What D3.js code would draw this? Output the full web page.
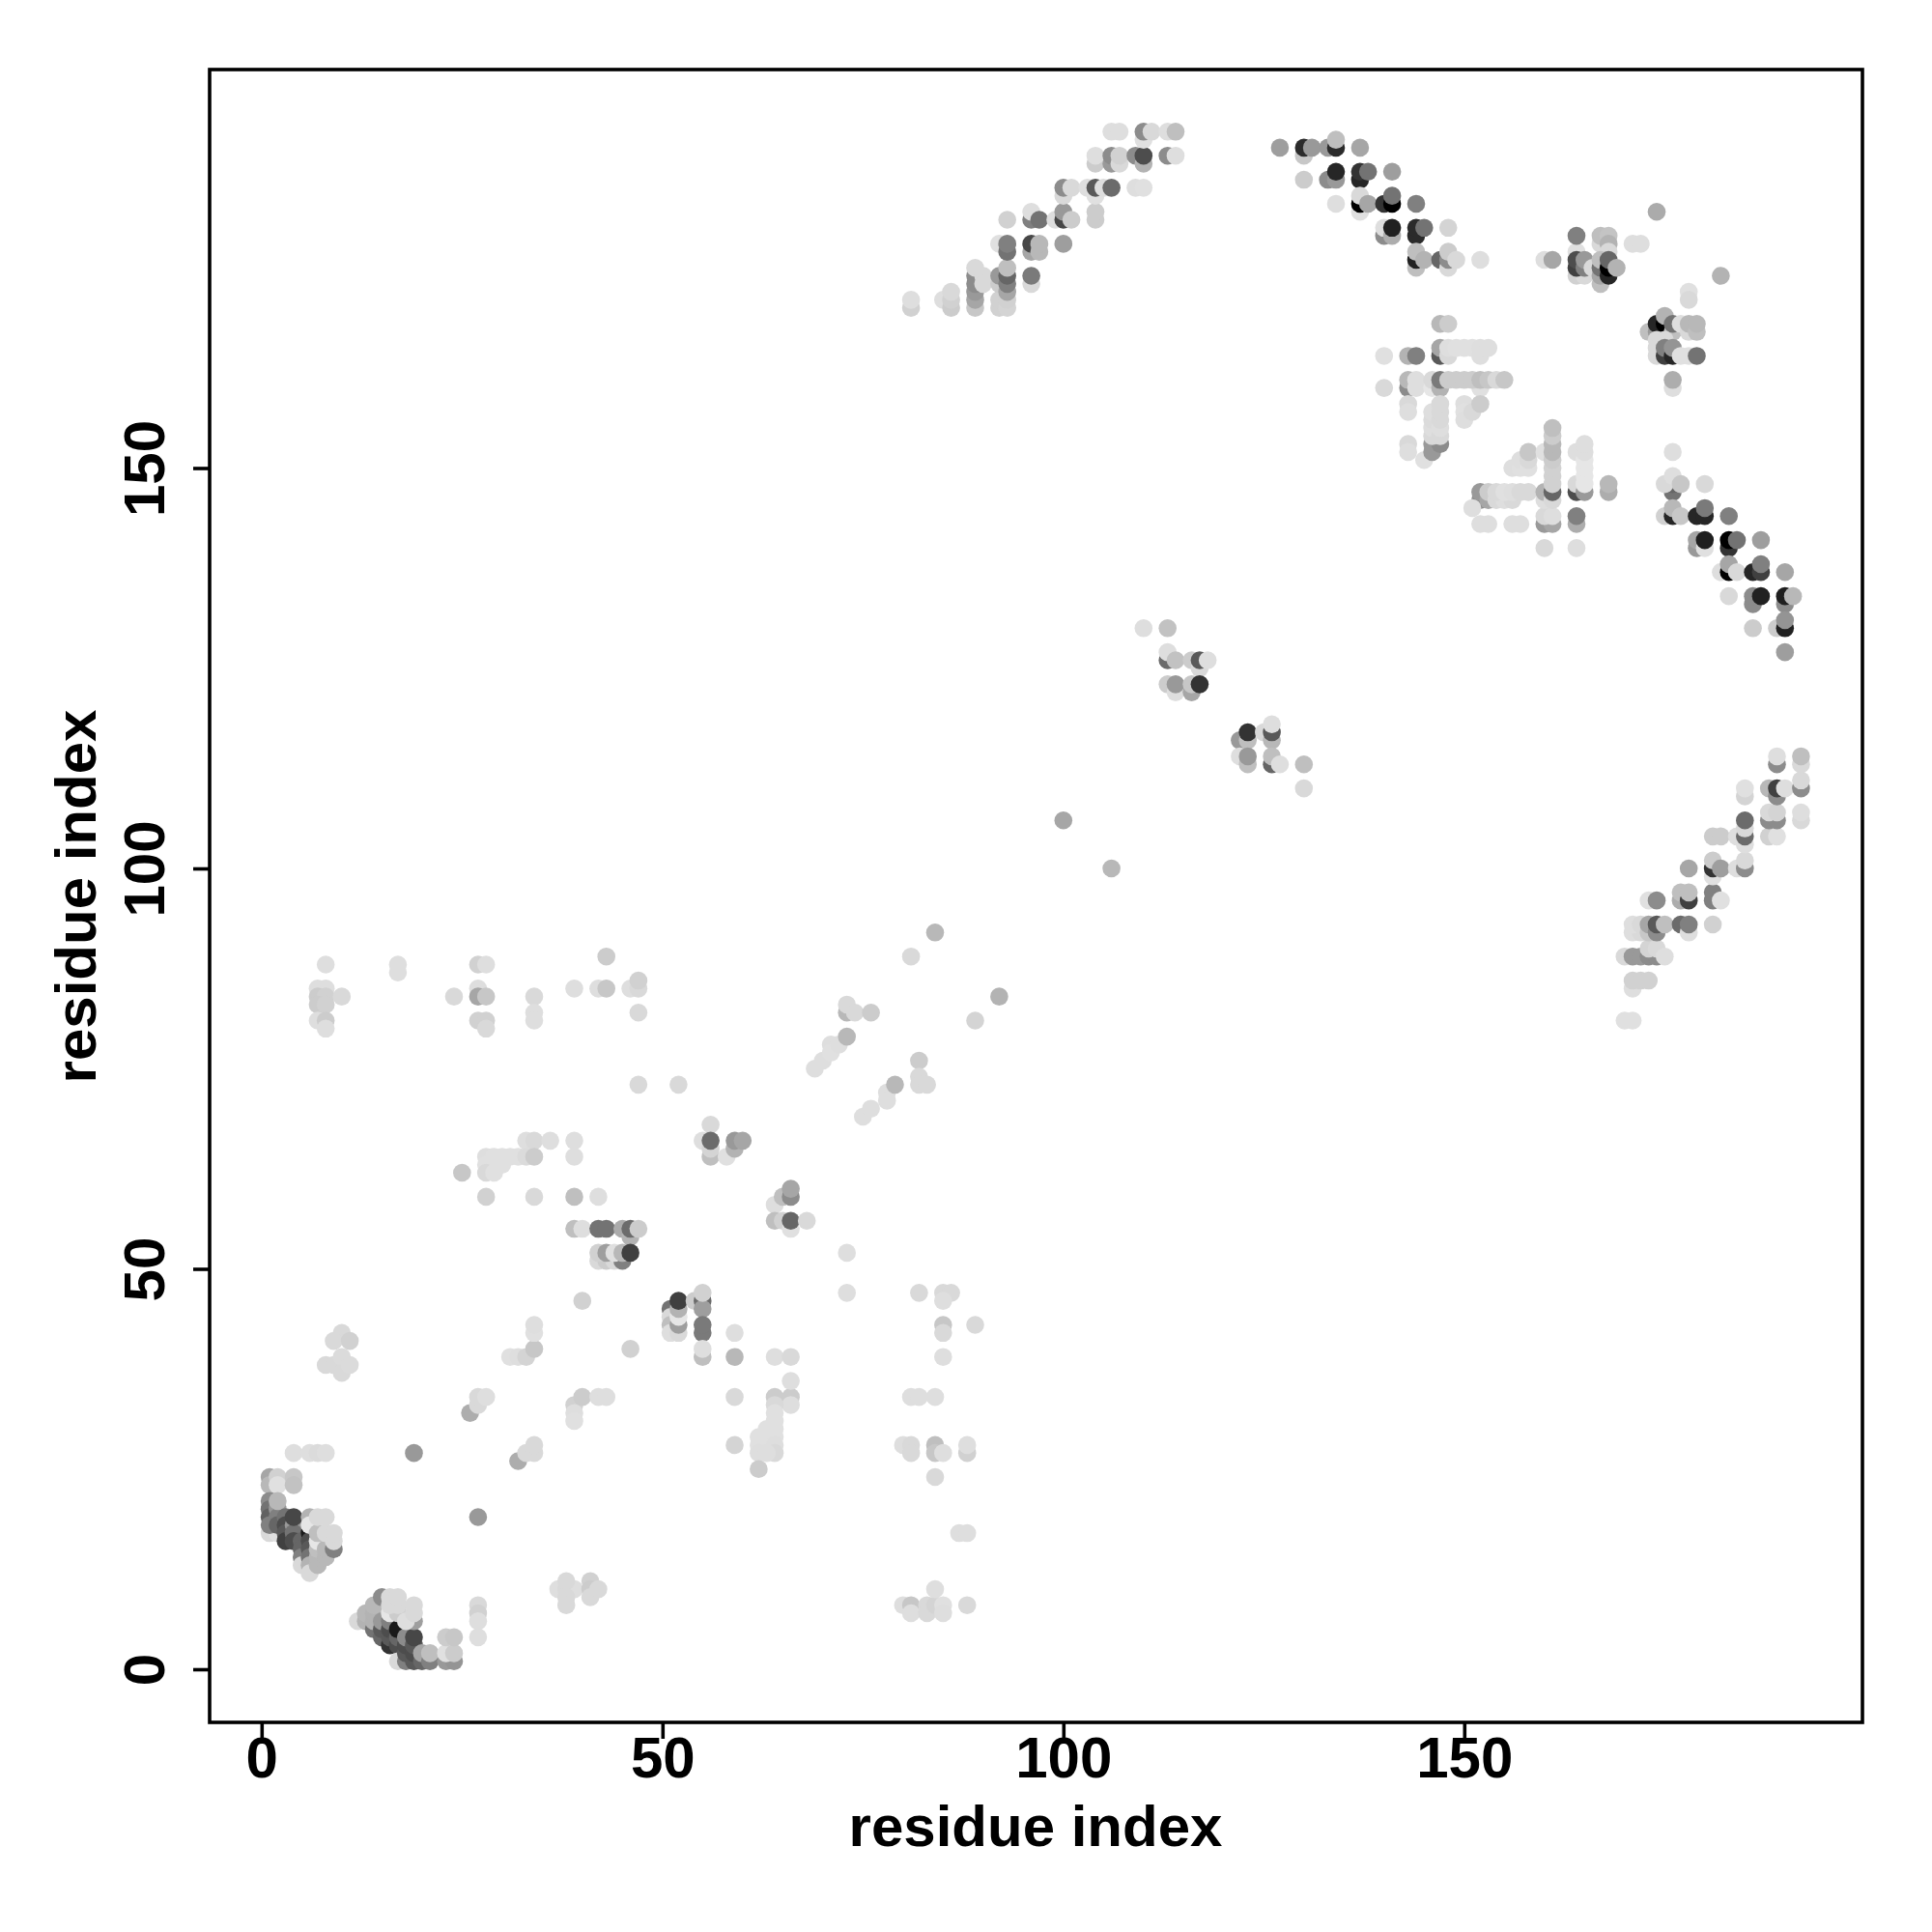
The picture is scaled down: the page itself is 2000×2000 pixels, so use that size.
<!DOCTYPE html>
<html><head><meta charset="utf-8"><style>html,body{margin:0;background:#fff}text{font-family:"Liberation Sans",Arial,sans-serif;font-weight:bold;fill:#000}</style>
<script src="https://cdn.jsdelivr.net/npm/d3@7"></script></head><body><svg id="c" width="2000" height="2000"></svg>
<script>
const xTicks=[0,50,100,150], yTicks=[0,50,100,150];
const xTitle="residue index", yTitle="residue index";
// each contact: [residue x, residue y, grey level 0 (black) - 1 (white)]
const startA=[[1,24,.65],[1,23,.72],[2,24,.82],[2,23,.88],[4,24,.78],[4,23,.76],[4,27,.87],[6,27,.87],[7,27,.86],[8,27,.87],[19,27,.6],[27,19,.6],
[1,17,.85],[2,17,.88],[1,21,.55],[1,20,.45],[1,19,.38],[1,18,.5],[2,20,.6],[2,19,.5],[2,18,.4],[2,21,.72],[3,19,.45],[3,18,.3],[3,17,.35],[3,16,.25],[4,18,.6],[4,17,.45],[4,16,.3],[4,19,.28],
[5,16,.4],[5,15,.4],[5,14,.5],[5,13,.85],[6,17,.1],[6,16,.3],[6,15,.35],[6,14,.45],[6,13,.7],[6,12,.85],[6,19,.7],[6,18,.9],[7,13,.72],[7,14,.72],[7,15,.75],[7,16,.9],[7,17,.75],[8,14,.72],[8,15,.72],[8,17,.85],[9,15,.5],[9,16,.85],[9,17,.85],[7,19,.85],[8,19,.85]];
const startB=[[12,6,.85],[13,6,.7],[13,7,.72],[14,5,.45],[14,6,.7],[14,7,.7],[14,8,.72],[15,4,.4],[15,5,.35],[15,6,.6],[15,9,.55],[16,3,.2],[16,4,.35],[16,5,.3],[16,6,.5],[17,3,.3],[17,4,.4],[17,5,.1],[17,1,.85],[18,1,.5],[18,2,.35],[18,3,.3],[18,4,.55],[19,1,.35],[19,2,.3],[19,3,.35],[19,4,.28],[19,6,.62],[20,1,.4],[20,2,.65],[21,1,.5],[21,2,.75],[23,1,.6],[24,1,.58],[23,2,.88],[24,2,.8],[23,4,.8],[24,4,.78],
[16,7,.9],[17,7,.8],[16,8,.85],[17,8,.85],[16,9,.85],[17,9,.85],[18,6,.87],[19,7,.85],[19,8,.85],[27,8,.85],[27,7,.82],[27,6,.87],[27,4,.87]];
const lowerBlock=[[10,42,.85],[9,41,.85],[11,41,.82],[8,38,.85],[9,38,.85],[10,39,.86],[10,37,.85],[11,38,.86],
[26,32,.68],[27,33,.85],[27,34,.85],[28,34,.87],[39,33,.82],[39,32,.87],[39,31,.88],[40,34,.8],[42,34,.87],[43,34,.87],[59,34,.85],[66,34,.8],[66,33,.87],[64,34,.8],[64,33,.85],[64,32,.88],[64,31,.88],[64,30,.88],[63,30,.88],[63,29,.88],[62,29,.88],[62,28,.88],[64,29,.88],[64,28,.87],[62,27,.87],[64,27,.85],[63,27,.87],[59,28,.83],[62,25,.8],
[32,26,.68],[33,27,.85],[34,27,.85],[34,28,.85],[37,10,.87],[38,10,.85],[39,10,.87],[38,11,.85],[38,9,.85],[38,8,.85],[41,11,.82],[41,10,.8],[41,9,.85],[42,10,.85],
[80,28,.87],[81,28,.85],[81,27,.85],[84,28,.75],[84,27,.78],[85,27,.87],[88,27,.82],[88,28,.87],[84,24,.85],[81,34,.87],[82,34,.87],[84,34,.87],[87,17,.87],[88,17,.87],
[80,8,.87],[81,8,.78],[81,7,.87],[83,8,.85],[83,7,.85],[84,8,.83],[84,10,.87],[85,8,.88],[85,7,.87],[88,8,.85],
[73,47,.87],[73,52,.87],[82,47,.85],[85,47,.85],[86,47,.85],[85,46,.87],[85,43,.78],[85,42,.85],[89,43,.85],[85,39,.87]];
const lowerMid=[[31,39,.88],[32,39,.87],[33,39,.83],[34,40,.78],[34,42,.88],[34,43,.87],[46,40,.82],[40,46,.82],
[51,45,.45],[51,44,.85],[51,43,.75],[51,42,.87],[52,42,.85],[52,43,.62],[52,44,.9],[52,45,.7],[52,46,.25],
[54,46,.8],[55,46,.42],[55,45,.62],[55,47,.82],[55,42,.48],[55,43,.48],[55,39,.75],[55,40,.87],[59,42,.87],[59,39,.72],[64,39,.87],[66,39,.85],[66,36,.87],
[33,66,.87],[34,66,.85],[36,66,.87],[39,66,.87],[39,64,.87],[28,64,.87],[29,64,.88],[30,64,.88],[31,64,.88],[32,64,.88],[33,64,.86],[34,64,.8],[28,63,.88],[29,63,.88],[30,63,.88],[28,62,.85],[29,62,.88],[25,62,.78],[28,59,.82],[34,59,.85],[39,59,.75],[42,59,.87],
[39,55,.75],[40,55,.87],[42,55,.45],[43,55,.45],[45,55,.67],[46,54,.7],[46,55,.42],[47,55,.8],[42,51,.85],[43,51,.8],[44,51,.85],[45,51,.5],[42,52,.82],[43,52,.62],[44,52,.88],[45,52,.72],[46,52,.25],
[55,66,.87],[56,64,.75],[56,65,.83],[56,68,.85],[56,66,.42],[58,64,.88],[59,65,.7],[59,66,.6],[60,66,.65],
[64,58,.87],[65,59,.75],[66,59,.55],[66,60,.65],[64,56,.75],[65,56,.82],[66,55,.88],[66,56,.4],[68,56,.85]];
const lowerUpper=[[8,88,.87],[17,88,.87],[17,87,.87],[27,88,.82],[28,88,.87],[7,85,.87],[8,85,.87],[7,84,.8],[8,84,.82],[7,83,.8],[8,83,.82],[10,84,.85],[7,81,.87],[8,81,.8],[8,80,.87],[24,84,.85],[27,85,.87],[27,84,.65],[28,84,.78],[27,81,.82],[28,81,.82],[28,80,.85],[34,84,.85],[34,82,.87],[34,81,.87],[39,85,.87],[42,85,.87],[43,85,.78],[43,89,.8],[46,85,.87],[47,85,.85],[47,86,.82],[47,82,.85],[47,73,.85],[52,73,.85],
[69,75,.87],[70,76,.87],[71,78,.87],[71,77,.88],[72,78,.87],[73,79,.72],[73,82,.72],[73,83,.85],[74,82,.85],[76,82,.8],[75,69,.87],[76,70,.87],[78,72,.87],[78,71,.87],[79,73,.72],[82,76,.8],[82,74,.85],[82,73,.85],[83,73,.85],[81,89,.85],[84,92,.72],[89,81,.83],[92,84,.7],[100,106,.65],[106,100,.72]];
const middle=[[110,130,.87],[113,130,.76],[113,126,.42],[113,127,.87],[114,126,.76],[116,126,.8],[117,125,.85],[117,126,.35],[118,126,.87],[113,123,.8],[114,122,.87],[114,123,.6],[116,122,.65],[116,123,.78],[117,123,.2],
[122,116,.6],[123,116,.75],[123,117,.2],[125,117,.85],[126,116,.72],[126,117,.35],[126,118,.87],[122,114,.87],[123,113,.75],[123,114,.6],[126,113,.4],[126,114,.75],[127,113,.87],[130,113,.75],[130,110,.85]];
const topLeft=[[81,170,.82],[81,171,.87],[85,171,.87],[86,170,.8],[86,171,.82],[86,172,.85],[89,170,.78],[89,171,.65],[89,172,.6],[89,173,.55],[89,174,.55],[89,175,.85],[90,174,.85],[90,173,.85],
[92,170,.82],[92,171,.82],[92,173,.8],[92,174,.6],[93,170,.83],[93,171,.82],[93,172,.65],[93,173,.5],[93,174,.4],[93,175,.75],[96,173,.85],[96,174,.48],
[92,178,.88],[93,177,.45],[93,178,.5],[96,177,.65],[96,178,.28],[97,177,.72],[97,178,.72],[100,178,.62],[93,181,.82],[96,181,.5],[96,182,.87],[97,181,.45],[99,181,.87],[100,181,.28],[100,182,.6],[101,181,.8],[104,181,.8],[104,182,.8],
[100,184,.85],[100,185,.55],[101,185,.85],[103,185,.87],[104,184,.88],[104,185,.35],[105,185,.87],[106,185,.42],[109,185,.87],[110,185,.88],
[104,188,.8],[104,189,.87],[106,188,.6],[106,189,.55],[107,188,.85],[107,189,.82],[109,189,.55],[110,188,.7],[110,189,.3],[110,191,.88],[113,189,.55],[114,189,.87],[106,192,.87],[107,192,.87],[110,192,.55],[111,192,.85],[113,192,.87],[114,192,.75]];
const topRight=[[127,190,.62],[130,189,.78],[130,190,.17],[131,190,.6],[133,190,.6],[134,190,.17],[134,191,.75],[137,190,.65],[130,186,.8],[133,186,.55],[134,186,.6],[134,187,.15],[137,186,.15],[137,187,.2],[138,187,.45],[141,187,.62],
[134,183,.87],[137,182,.88],[137,183,0],[137,184,.85],[138,183,.65],[140,183,.2],[141,183,0],[141,184,.45],[144,183,.5],[140,179,.55],[140,180,.87],[141,179,.68],[141,180,.13],[144,179,.17],[144,180,.17],[145,180,.45],[148,180,.83],
[144,175,.75],[144,176,.13],[144,177,.75],[145,176,.7],[147,176,.4],[148,175,.85],[148,176,.55],[148,177,.8],[149,176,.85],[152,176,.87],
[160,176,.87],[161,176,.65],[174,182,.67],[164,177,.88],[164,179,.5],[171,178,.87],[172,178,.87],[167,178,.85],[167,179,.75],[168,179,.77],[168,178,.7],[168,177,.85],
[164,174,.82],[165,174,.85],[164,175,.25],[164,176,.3],[165,175,.5],[165,176,.6],[166,175,.85],[167,173,.75],[167,174,.65],[167,175,.45],[167,176,.75],[168,174,.15],[168,175,0],[168,176,.4],[169,175,.7]];
const rightBlock=[[147,168,.72],[148,168,.8],[140,164,.88],[143,164,.7],[144,164,.5],[147,164,.35],[147,165,.65],[148,164,.85],[148,165,.87],[149,165,.88],[150,165,.88],[151,165,.88],[152,164,.87],[152,165,.87],[153,165,.87],
[140,160,.85],[143,160,.55],[143,161,.72],[144,160,.87],[144,161,.87],[146,160,.9],[146,161,.85],[147,160,.7],[147,161,.48],[152,160,.88],[148,161,.8],[149,161,.8],[150,161,.8],[151,161,.8],[152,161,.75],[153,161,.78],[154,161,.85],[155,161,.78],
[143,158,.85],[143,157,.87],[143,153,.85],[143,152,.87],[145,151,.88],[146,153,.6],[146,152,.6],[147,153,.55],[146,154,.85],[146,155,.87],[146,156,.86],[146,157,.87],[147,154,.85],[147,155,.87],[147,156,.85],[147,157,.85],[147,158,.85],[150,158,.87],[150,157,.88],[150,156,.87],[151,157,.85],[152,158,.8],
[156,150,.87],[157,150,.88],[157,151,.87],[158,150,.88],[158,151,.85],[158,152,.78],[152,146,.55],[152,147,.6],[153,146,.65],[153,147,.8],[151,145,.87],[154,146,.85],[155,146,.87],[156,146,.85],[154,147,.85],[155,147,.88],[156,147,.87],[157,147,.85],[158,147,.85],[152,143,.87],[153,143,.87],[156,143,.87],[157,143,.87],
[160,140,.85],[164,140,.87],[160,143,.6],[161,143,.65],[160,144,.85],[161,144,.87],[164,143,.68],[164,144,.5],[160,146,.87],[160,147,.7],[160,152,.88],[161,146,.85],[161,147,.4],[161,148,.82],[161,149,.82],[161,150,.82],[161,151,.8],[161,152,.72],[161,153,.72],[161,154,.8],[161,155,.75],
[164,147,.3],[164,148,.85],[164,152,.87],[165,147,.6],[165,148,.9],[165,149,.9],[165,150,.9],[165,151,.9],[165,152,.87],[165,153,.87],[168,147,.68],[168,148,.72]];
const rightCluster=[[178,172,.88],[178,171,.85],[182,174,.7],[173,167,.75],[174,167,.6],[175,167,.3],[174,168,.15],[175,168,0],[175,169,.7],[176,167,.75],[176,168,.45],[177,168,.87],[178,167,.85],[178,168,.72],[179,167,.75],[179,168,.72],
[174,166,.85],[175,166,.85],[174,165,.85],[174,164,.85],[175,164,.25],[175,165,.5],[176,164,.15],[176,165,.58],[177,164,.88],[178,164,.88],[179,164,.45],[176,160,.87],[176,161,.68]];
const rightDiag=[[176,152,.87],[176,147,.45],[176,148,.4],[175,148,.85],[176,149,.87],[177,148,.78],[180,148,.85],[175,144,.82],[176,144,.15],[176,145,.72],[177,144,.78],[179,144,.15],[180,144,.15],[180,145,.48],[183,144,.5],
[179,140,.6],[179,141,.65],[180,140,.88],[180,141,.12],[183,140,.2],[183,141,0],[184,141,.45],[187,141,.62],[182,137,.87],[183,137,0],[183,138,.65],[184,137,.85],[186,137,.15],[187,137,.25],[187,138,.5],[190,137,.65],
[183,134,.85],[186,133,.55],[186,134,.55],[187,134,.13],[190,133,.55],[190,134,.12],[191,134,.72],[186,130,.8],[189,130,.8],[190,130,.13],[190,131,.58],[190,127,.62]];
const rightLower=[[170,81,.88],[171,81,.88],[171,85,.87],[171,86,.82],[172,86,.82],[173,86,.82],[170,89,.85],[171,89,.6],[172,89,.6],[173,89,.55],[174,89,.55],[173,90,.83],[174,90,.85],[175,89,.87],
[171,92,.87],[172,92,.85],[171,93,.87],[172,93,.85],[173,92,.78],[173,93,.65],[174,92,.55],[174,93,.35],[175,93,.75],[177,93,.42],[178,92,.87],[178,93,.5],[181,93,.82],
[173,96,.88],[174,96,.55],[177,96,.68],[177,97,.75],[178,96,.25],[178,97,.75],[181,96,.5],[181,97,.5],[182,96,.88],[178,100,.65],[181,99,.88],[181,100,.2],[181,101,.8],[182,100,.62],[184,100,.87],[185,100,.55],[185,101,.85],
[181,104,.8],[182,104,.8],[184,104,.87],[185,103,.87],[185,104,.42],[185,105,.85],[185,106,.42],[188,104,.82],[189,104,.88],[188,106,.55],[189,106,.55],[188,107,.85],[189,107,.83],[192,106,.85],[192,107,.87],
[185,109,.83],[185,110,.88],[188,110,.72],[189,109,.55],[189,110,.25],[190,110,.87],[192,110,.55],[192,111,.85],[189,113,.55],[189,114,.87],[192,113,.85],[192,114,.75]];

const contacts=[startA,startB,lowerBlock,lowerMid,lowerUpper,middle,topLeft,topRight,rightBlock,rightCluster,rightDiag,rightLower].flat();
const L=217,R=1928,T=72,B=1783,r=9.3;
const x=d3.scaleLinear().domain([0,150]).range([270.8,1515.8]);
const y=d3.scaleLinear().domain([0,150]).range([1728,484.5]);
const shade=d3.scaleLinear().domain([0,1]).range(["#000","#fff"]);
const svg=d3.select("#c");
svg.append("g").selectAll("circle").data(contacts).join("circle")
 .attr("cx",d=>x(d[0])).attr("cy",d=>y(d[1])).attr("r",r).attr("fill",d=>shade(d[2]));
svg.append("rect").attr("x",L).attr("y",T).attr("width",R-L).attr("height",B-T).attr("fill","none").attr("stroke","#000").attr("stroke-width",3.6);
const ax=svg.append("g").attr("transform",`translate(0,${B})`).call(d3.axisBottom(x).tickValues(xTicks).tickSize(17).tickPadding(0).tickFormat(d3.format("d")));
ax.select(".domain").remove();ax.selectAll("line").attr("stroke","#000").attr("stroke-width",3.6);
ax.selectAll("text").attr("font-size",60).attr("y",0).attr("dy",0).attr("transform",`translate(0,57)`);
const ay=svg.append("g").attr("transform",`translate(${L},0)`).call(d3.axisLeft(y).tickValues(yTicks).tickSize(17).tickPadding(0).tickFormat(d3.format("d")));
ay.select(".domain").remove();ay.selectAll("line").attr("stroke","#000").attr("stroke-width",3.6);
ay.selectAll("text").attr("font-size",60).attr("x",0).attr("dy",0).attr("text-anchor","middle").attr("transform","translate(-47,0) rotate(-90)");
svg.append("text").attr("x",1072).attr("y",1911).attr("text-anchor","middle").attr("font-size",60).text(xTitle);
svg.append("text").attr("transform","translate(99,928) rotate(-90)").attr("text-anchor","middle").attr("font-size",60).text(yTitle);
</script></body></html>
